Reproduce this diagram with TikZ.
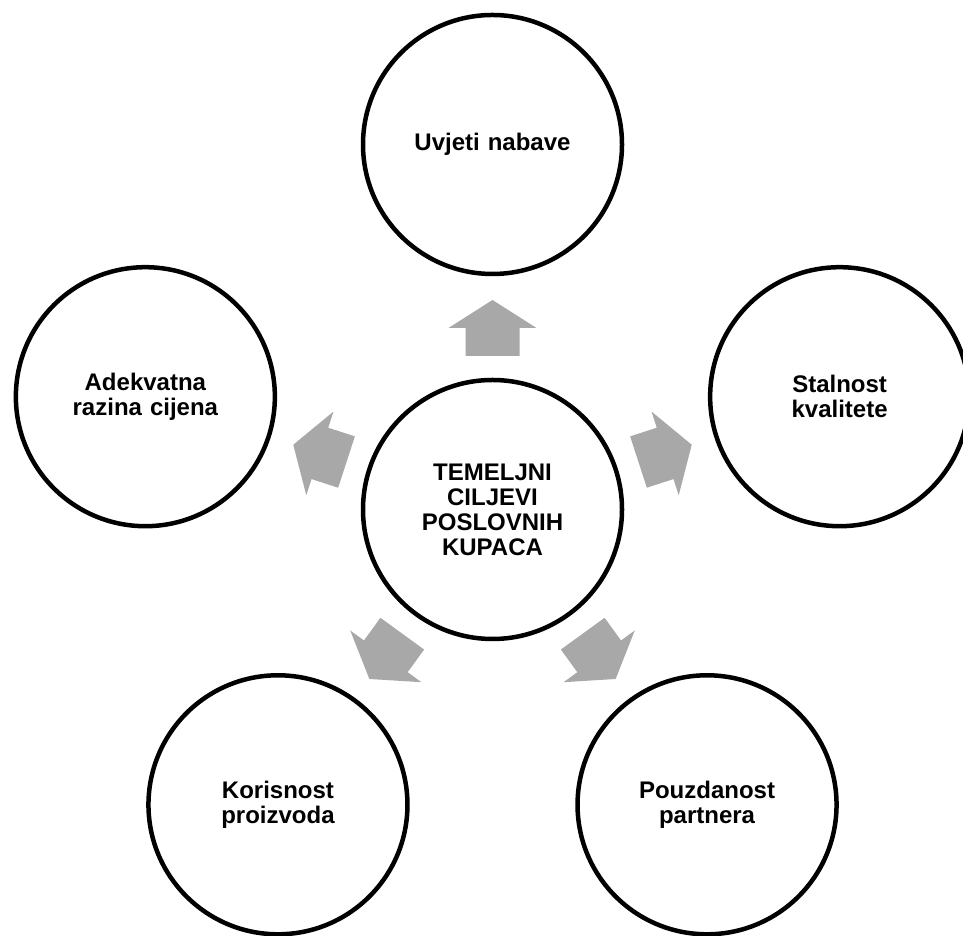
\documentclass[tikz,border=0pt]{standalone}
\usepackage{fontspec}
\setmainfont{Liberation Sans}
\usetikzlibrary{calc}
\definecolor{arrowgray}{RGB}{168,168,168}
\tikzset{
  goal/.style={circle, draw=black, line width=4.5pt, fill=white, minimum size=259pt, inner sep=0pt,
    align=center, font=\fontsize{24}{25}\selectfont\bfseries, text width=220pt},
  blockarrow/.style={fill=arrowgray, draw=none}
}
\begin{document}
\begin{tikzpicture}[x=1pt,y=1pt]
\useasboundingbox (0,0) rectangle (963,936);
\clip (0,0) rectangle (963,936);
\node[goal] (c) at (492.5,426.5) {TEMELJNI\\CILJEVI\\POSLOVNIH\\KUPACA};
\node[goal] (n1) at ($(c.center)+(90:365)$) {Uvjeti nabave};
\node[goal] (n2) at ($(c.center)+(18:365)$) {Stalnost\\kvalitete};
\node[goal] (n3) at ($(c.center)+(-54:365)$) {Pouzdanost\\partnera};
\node[goal] (n4) at ($(c.center)+(-126:365)$) {Korisnost\\proizvoda};
\node[goal] (n5) at ($(c.center)+(162:365)$) {Adekvatna\\razina cijena};
\foreach \a in {90,18,-54,-126,162}{
  \begin{scope}[shift={(c.center)}, rotate=\a]
    \fill[blockarrow] (153.5,-27) -- (181.5,-27) -- (181.5,-44) -- (209.5,0) -- (181.5,44) -- (181.5,27) -- (153.5,27) -- cycle;
  \end{scope}
}
\end{tikzpicture}
\end{document}
